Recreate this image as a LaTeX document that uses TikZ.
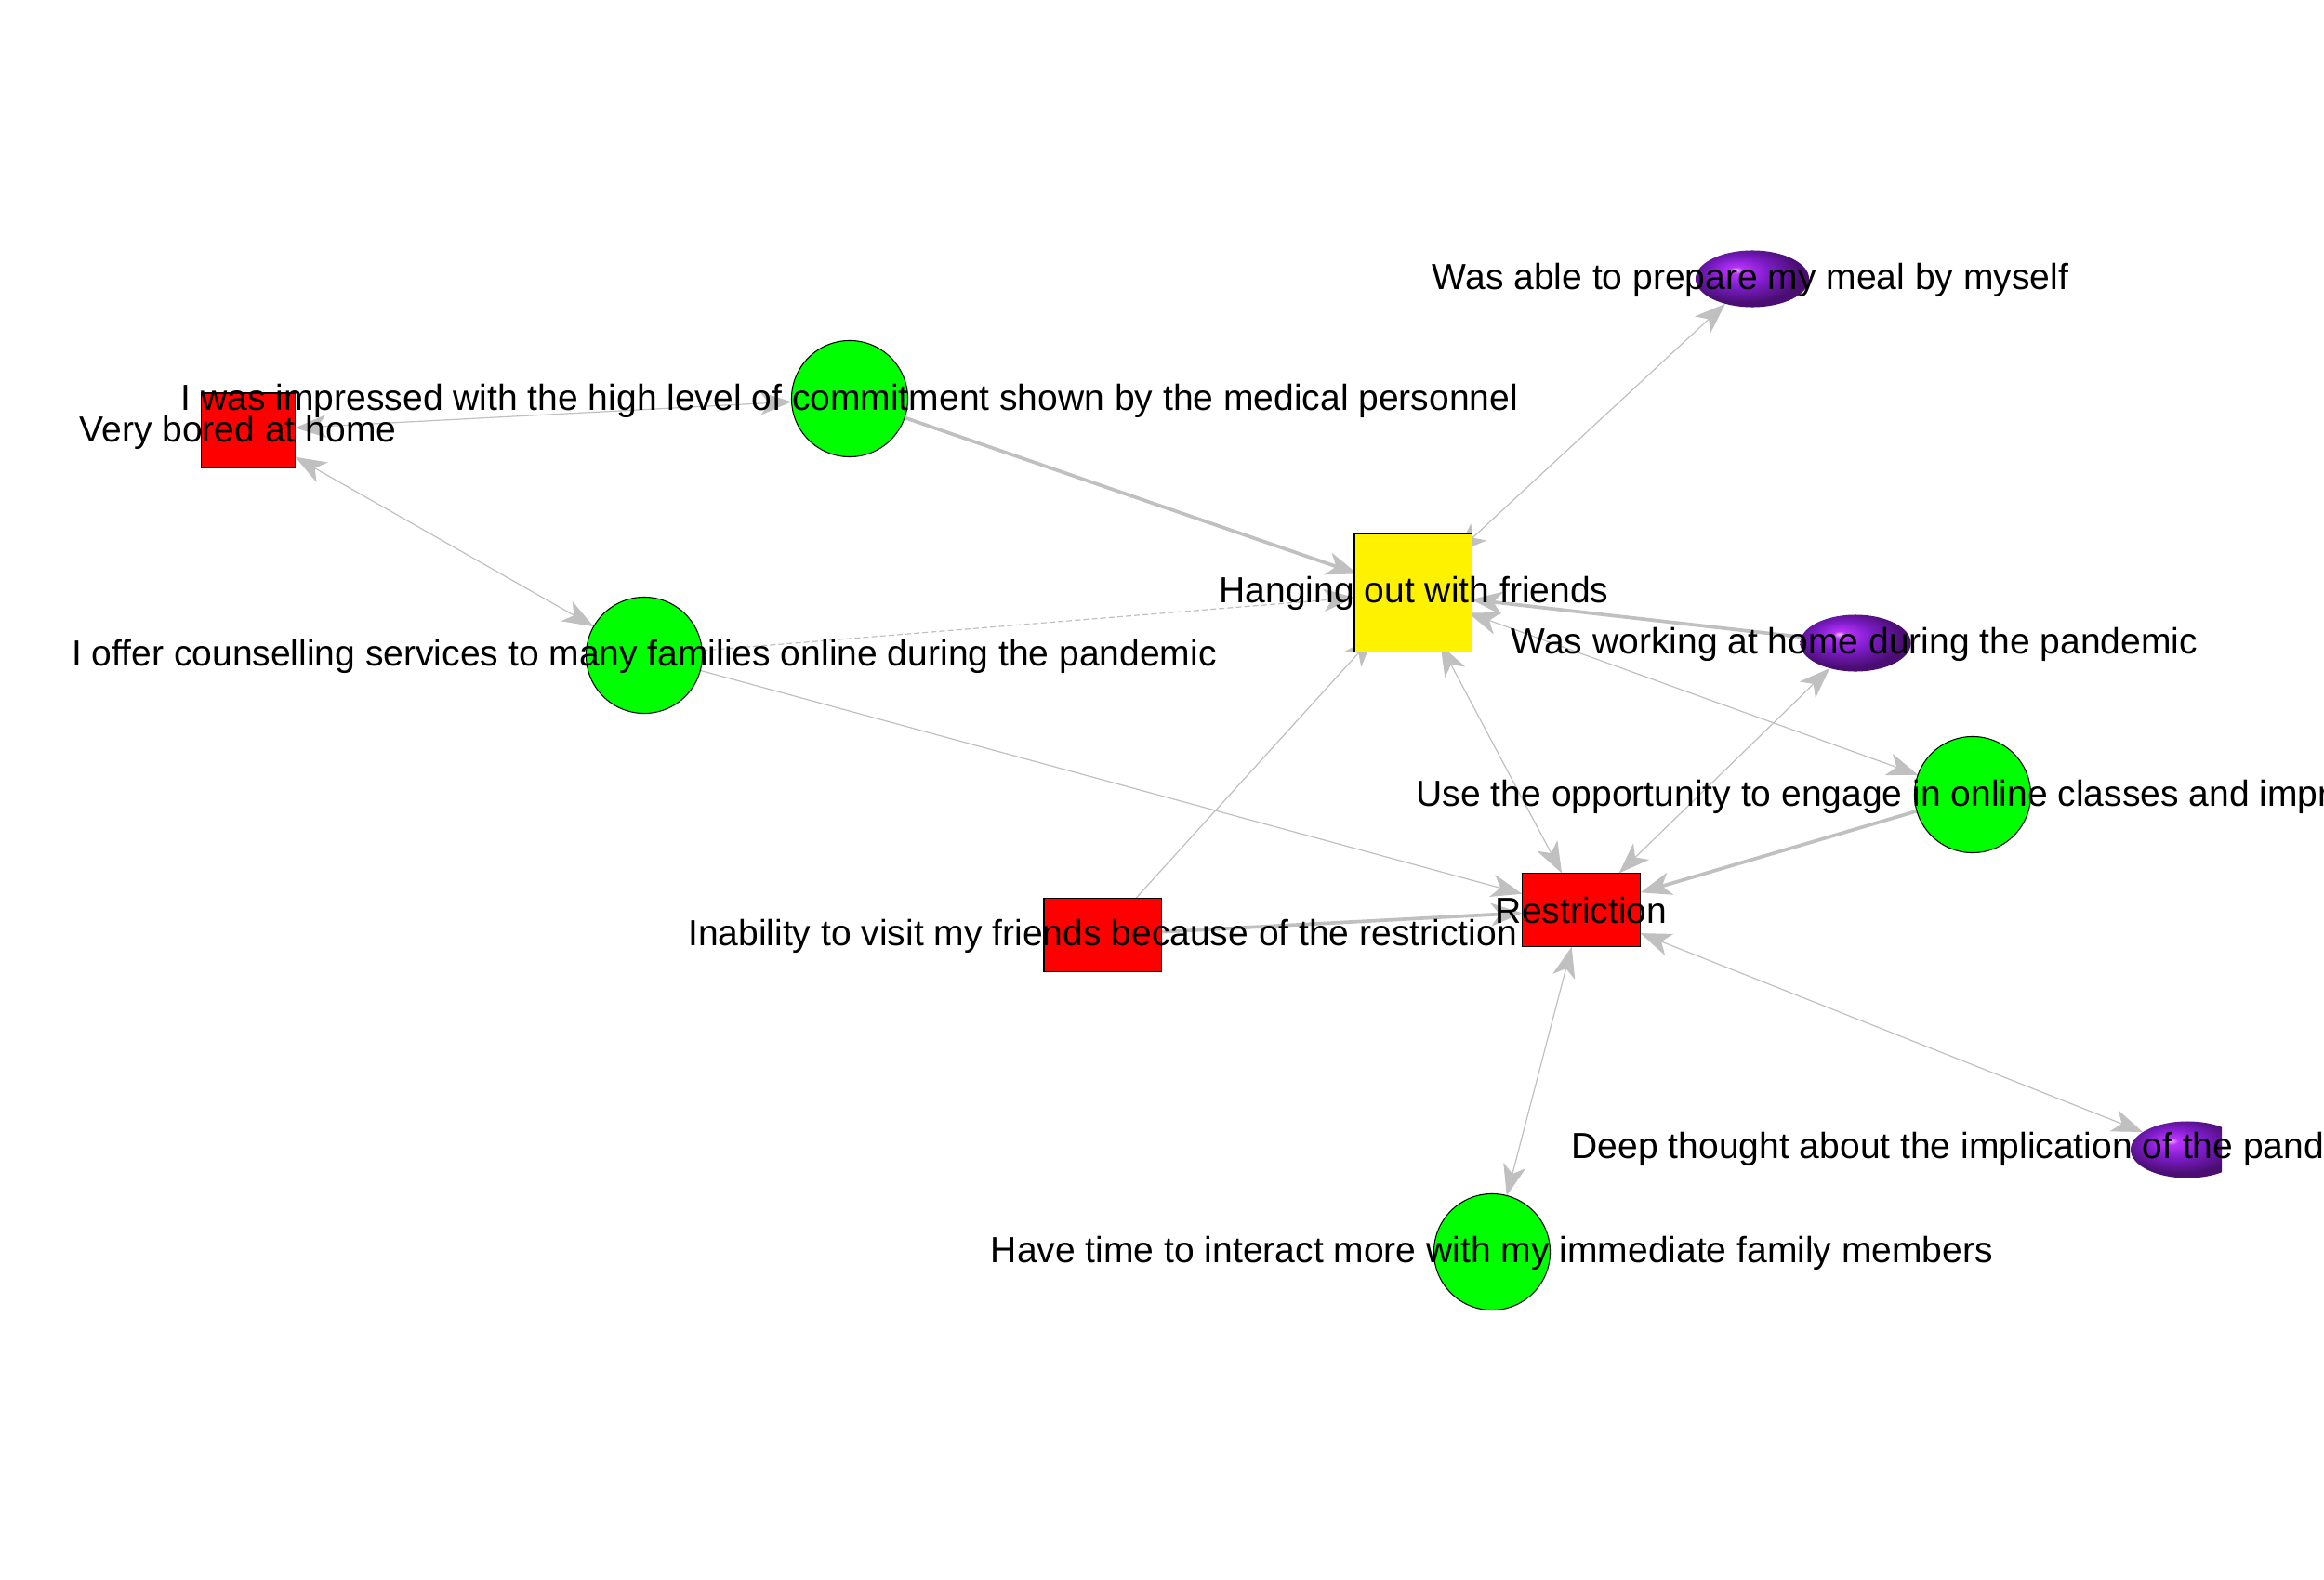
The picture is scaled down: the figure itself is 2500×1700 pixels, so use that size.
\documentclass[tikz,border=0pt]{standalone}
\usepackage{fontspec}
\setmainfont{Liberation Sans}
\usetikzlibrary{arrows.meta,shapes.geometric}
\definecolor{edgegray}{RGB}{192,192,192}
\definecolor{pbA}{RGB}{245,190,255}
\definecolor{pbB}{RGB}{185,50,250}
\definecolor{pbC}{RGB}{125,28,200}
\definecolor{pbD}{RGB}{74,14,115}
\pgfdeclareradialshading{purpleball}{\pgfpoint{-7.5bp}{8bp}}{color(0bp)=(pbA); color(3bp)=(pbB); color(13bp)=(pbC); color(25bp)=(pbD); color(50bp)=(pbD)}
\pgfdeclarelayer{edgelayer}
\pgfdeclarelayer{textlayer}
\pgfsetlayers{edgelayer,main,textlayer}
\tikzset{
  redbox/.style={rectangle, draw=black, line width=0.3pt, fill=red, inner sep=0pt, outer sep=0pt},
  greenball/.style={circle, draw=black, line width=0.3pt, fill=green, minimum size=1.25cm, inner sep=0pt, outer sep=0pt},
  purpleegg/.style={ellipse, shading=purpleball, inner sep=0pt, outer sep=0pt, minimum width=1.22cm, minimum height=0.61cm},
  lbl/.style={font=\fontsize{11.1pt}{13pt}\selectfont, inner sep=0pt, anchor=base, text=black},
  link/.style={draw=edgegray, line width=0.34pt, >={Stealth[length=9.5pt,width=7pt,inset=2.6pt]}},
  heavy/.style={link, line width=1.05pt},
}
\begin{document}
\begin{tikzpicture}[x=0.01cm, y=-0.01cm]
\useasboundingbox (0,0) rectangle (2500,1700);
\begin{pgfonlayer}{edgelayer}
\fill[white] (0,0) rectangle (2500,1700);
\end{pgfonlayer}

% shapes
\node[redbox, minimum width=1.01cm, minimum height=0.80cm] (bored) at (267,463) {};
\node[greenball] (impr) at (914,429) {};
\node[rectangle, draw=black, line width=0.3pt, fill=yellow, minimum size=1.26cm, inner sep=0pt, outer sep=0pt] (hang) at (1520,638) {};
\node[circle, minimum size=1.26cm, inner sep=0pt, outer sep=0pt] (hangc) at (1520,638) {};
\node[purpleegg] (prep) at (1885,300) {};
\node[purpleegg, minimum width=1.19cm] (work) at (1996,692) {};
\node[greenball] (couns) at (693,705) {};
\node[greenball] (online) at (2122,855) {};
\node[redbox, minimum width=1.27cm, minimum height=0.79cm] (restr) at (1701,979) {};
\node[redbox, minimum width=1.26cm, minimum height=0.79cm] (inab) at (1186,1006) {};
\begin{scope}
\clip (0,0) rectangle (2390,1700);
\node[purpleegg] (deep) at (2353,1237) {};
\end{scope}
\node[greenball] (fam) at (1605,1347) {};

% connectors
\begin{pgfonlayer}{edgelayer}
\draw[link,<->] (bored) -- (impr);
\draw[link,<->] (bored) -- (couns);
\draw[heavy,->] (impr) -- (hangc);
\draw[link,->,dash pattern=on 1.7pt off 0.9pt] (couns) -- (hangc);
\draw[link,->] (couns) -- (restr);
\draw[link,<->] (hangc) -- (prep);
\draw[heavy,->] (work) -- (hangc);
\draw[link,<->] (hangc) -- (online);
\draw[link,<->] (hangc) -- (restr);
\draw[link,<->] (work) -- (restr);
\draw[heavy,->] (online) -- (restr);
\draw[heavy,->] (inab) -- (restr);
\draw[link,->] (inab) -- (hangc);
\draw[link,<->] (restr) -- (deep);
\draw[link,<->] (restr) -- (fam);
\end{pgfonlayer}

% labels
\begin{pgfonlayer}{textlayer}
\node[lbl] (boredL) at (256,475) {Very bored at home};
\node[lbl] (imprL) at (914,441) {I was impressed with the high level of commitment shown by the medical personnel};
\node[lbl] (hangL) at (1521,648) {Hanging out with friends};
\node[lbl] (prepL) at (1883,311) {Was able to prepare my meal by myself};
\node[lbl] (workL) at (1995,703) {Was working at home during the pandemic};
\node[lbl] (counsL) at (693,716) {I offer counselling services to many families online during the pandemic};
\node[lbl, anchor=base west] (onlineL) at (1523,867) {Use the opportunity to engage in online classes and impr};
\node[lbl] (restrL) at (1701,993) {Restriction};
\node[lbl] (inabL) at (1186,1017) {Inability to visit my friends because of the restriction};
\node[lbl, anchor=base west] (deepL) at (1690,1246) {Deep thought about the implication of the pand};
\node[lbl] (famL) at (1605,1358) {Have time to interact more with my immediate family members};
\end{pgfonlayer}
\end{tikzpicture}
\end{document}
